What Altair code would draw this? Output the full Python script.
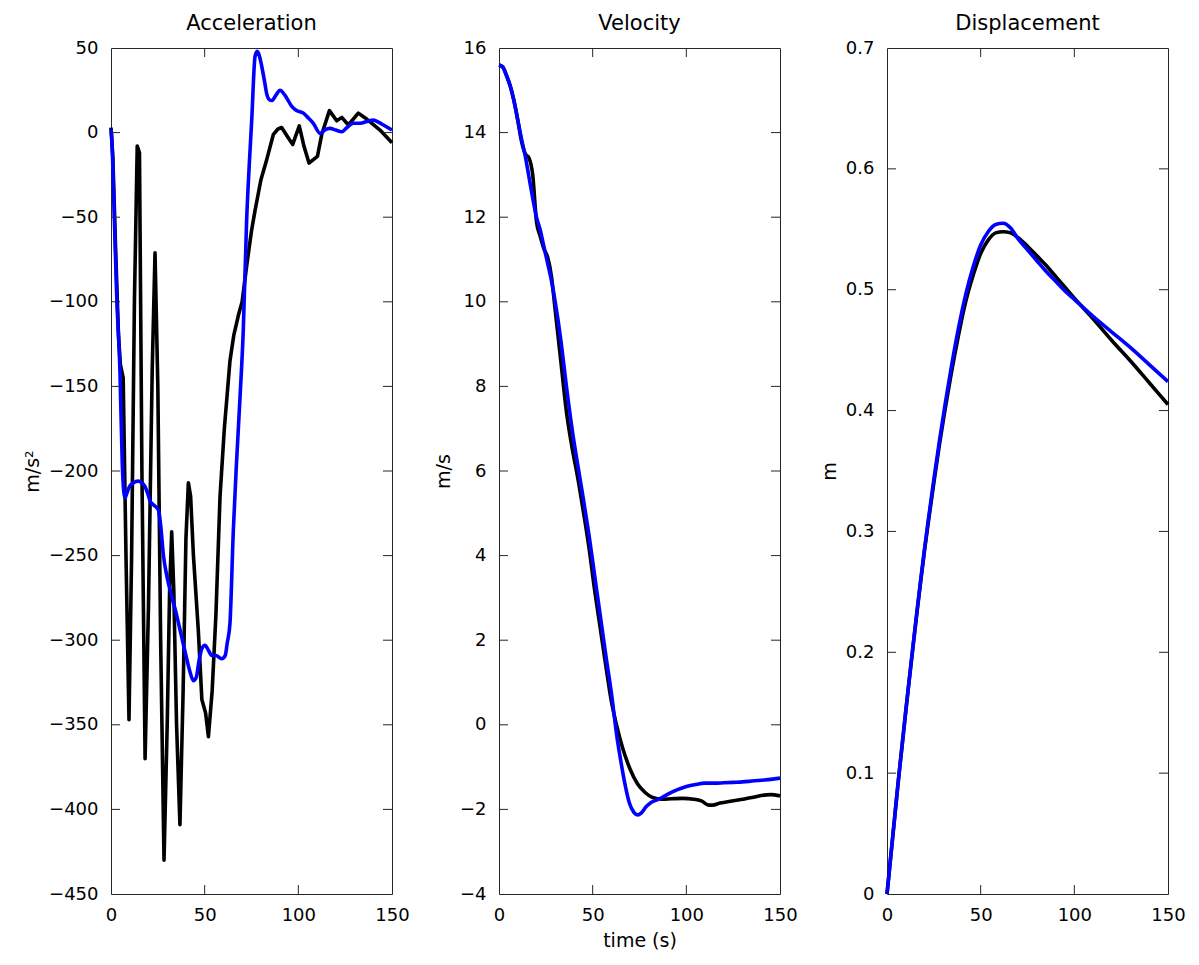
import altair as alt
import pandas as pd

# ---------------- data ----------------
acc_t_black = [0, 1, 2.5, 4, 5, 6.5, 8, 9.6, 11, 12.5, 14, 15.2, 16.5, 18.2, 20, 22, 23.5, 25, 26.5,
               28.3, 30, 31.3, 32.4, 33.5, 35, 36.8, 38.5, 40, 41.3, 42.5, 44, 46.6, 48.5, 50.5, 52,
               54, 56, 58.2, 60.5, 63.5, 65.5, 68, 70, 72.4, 75, 76.9, 80, 83.1, 86.7, 89, 91.1, 94,
               97, 100.5, 103, 105.7, 108, 110.2, 112.5, 116.6, 120.5, 123.2, 126.7, 132, 136.5,
               143.6, 150]
acc_black = [3, -15, -70, -120, -137, -145, -250, -347, -250, -100, -8, -12, -200, -370, -280, -140,
             -71, -150, -300, -430, -350, -270, -236, -270, -350, -409, -330, -240, -207, -215, -250,
             -294, -335, -343, -357, -330, -285, -215, -175, -135, -120, -108, -100, -79, -58, -46,
             -28, -16, -1, 2, 3, -2, -7, 4, -8, -18, -16, -14, -1, 13, 7, 9, 4.5, 11.5, 8, 1.5, -6]

acc_t_blue = [0, 0.5, 1.5, 3, 4.8, 6, 6.8, 7.5, 8.5, 10, 12, 14.5, 16.4, 18, 19.5, 21, 22.6, 25.3,
              26.5, 28, 30, 32.4, 35, 37.7, 40, 42, 44, 45.5, 47, 48.5, 50.2, 52, 53.8, 56, 59.1, 61,
              62, 63.5, 65.3, 67, 68.9, 70.6, 72.4, 74, 75.1, 76.9, 78.1, 79.3, 80.5, 82, 83.1, 84.5,
              85.8, 88, 90.2, 92.9, 96.5, 99, 102.7, 105, 108, 111.6, 114, 116.9, 120, 123.2, 126,
              129.4, 133, 136.5, 140, 143, 145.4, 150]
acc_blue = [2, -5, -40, -95, -142, -195, -212, -216, -213, -209, -207, -206, -207, -209, -213, -218,
            -220, -223, -232, -250, -263, -274, -285, -298, -309, -318, -324, -322, -312, -305, -303,
            -306, -309, -309, -311, -309, -302, -290, -235, -195, -156, -117, -52, -15, 7, 45, 48, 45,
            39, 30, 23, 19.5, 19, 22, 25, 22, 15.5, 13, 11.5, 9, 5.5, -0.5, 1.5, 2.5, 1.5, 0.5, 3, 5.5,
            5.5, 6.5, 7.4, 6, 4.5, 1.5]

vel_t_black = [0, 2, 4, 6, 8, 10, 12, 14, 16, 18, 20, 22, 24, 26, 28, 30, 33, 36, 39, 42, 45, 48, 51,
               54, 57, 60, 62.5, 66, 70, 74, 78, 82, 87, 92, 98, 104, 108, 112, 114, 118, 122, 126,
               130, 135, 140, 145, 150]
vel_black = [15.6, 15.55, 15.35, 15.1, 14.75, 14.3, 13.8, 13.5, 13.4, 13.0, 11.9, 11.55, 11.25,
             11.05, 10.6, 9.8, 8.6, 7.4, 6.55, 5.85, 5.05, 4.2, 3.2, 2.3, 1.4, 0.55, 0.04, -0.55,
             -1.05, -1.4, -1.6, -1.72, -1.76, -1.75, -1.74, -1.76, -1.8, -1.9, -1.9, -1.85, -1.82,
             -1.79, -1.76, -1.72, -1.67, -1.65, -1.68]

vel_t_blue = [0, 2, 4, 6, 8, 10, 12, 14, 16, 18, 20, 22, 24, 26, 28, 30, 33, 36, 39, 42, 45, 48, 51,
              54, 57, 60, 63, 65, 67, 69.6, 72, 74, 76, 78.6, 81, 84, 87, 91, 95, 100, 105, 110, 115,
              120, 125, 130, 135, 140, 145, 150]
vel_blue = [15.6, 15.55, 15.35, 15.1, 14.75, 14.3, 13.85, 13.45, 12.95, 12.45, 12.0, 11.7, 11.3,
            10.9, 10.5, 10.0, 9.1, 8.0, 7.0, 6.15, 5.35, 4.5, 3.55, 2.6, 1.65, 0.75, -0.3, -0.85,
            -1.35, -1.85, -2.07, -2.13, -2.08, -1.93, -1.84, -1.78, -1.72, -1.62, -1.54, -1.46,
            -1.41, -1.38, -1.38, -1.37, -1.36, -1.35, -1.33, -1.31, -1.29, -1.26]

disp_t = [0, 2, 4, 6, 8, 10, 12, 14, 16, 18, 20, 22, 25, 28, 31, 34, 38, 42, 46, 50, 54, 58, 62, 66,
          70, 75, 80, 85, 90, 95, 100, 110, 120, 130, 140, 150]
disp_black = [0, 0.031, 0.062, 0.093, 0.122, 0.151, 0.179, 0.206, 0.233, 0.259, 0.284, 0.307, 0.340,
              0.372, 0.401, 0.428, 0.461, 0.490, 0.512, 0.530, 0.541, 0.547, 0.548, 0.547, 0.543,
              0.536, 0.528, 0.520, 0.511, 0.502, 0.493, 0.476, 0.458, 0.441, 0.423, 0.405]
disp_blue = [0, 0.031, 0.062, 0.093, 0.122, 0.151, 0.179, 0.207, 0.234, 0.260, 0.285, 0.309, 0.343,
             0.375, 0.405, 0.433, 0.467, 0.496, 0.519, 0.537, 0.548, 0.554, 0.555, 0.551, 0.542,
             0.533, 0.524, 0.515, 0.507, 0.499, 0.492, 0.478, 0.465, 0.452, 0.438, 0.424]

x_ticks = [0, 50, 100, 150]
acc_ticks = [50, 0, -50, -100, -150, -200, -250, -300, -350, -400, -450]
vel_ticks = [16, 14, 12, 10, 8, 6, 4, 2, 0, -2, -4]
disp_ticks = [0, 0.1, 0.2, 0.3, 0.4, 0.5, 0.6, 0.7]

# ---------------- styling ----------------
FONT = "DejaVu Sans"
W, H = 281, 846
TICK = 9
BOX = "#262626"
LW = 3.6


def panel(tb, vb, tl, vl, ydom, yticks, title, ytitle, xtitle=None, smooth_black=True):
    xs = alt.Scale(domain=[0, 150], nice=False, zero=False)
    ys = alt.Scale(domain=ydom, nice=False, zero=False)
    xaxis = alt.Axis(values=x_ticks, tickSize=0, domain=False, grid=False, labelPadding=12,
                     labelFontSize=18, labelFont=FONT, labelColor="black", format="~f",
                     titleFontSize=19, titleFont=FONT, titleFontWeight="normal",
                     titleColor="black", titlePadding=7, labelFlush=False)
    yaxis = alt.Axis(values=yticks, tickSize=0, domain=False, grid=False, labelPadding=13,
                     labelFontSize=18, labelFont=FONT, labelColor="black", format="~f",
                     titleFontSize=19, titleFont=FONT, titleFontWeight="normal",
                     titleColor="black", titlePadding=6, labelFlush=False)

    dfb = pd.DataFrame({"t": tb, "v": vb})
    dfl = pd.DataFrame({"t": tl, "v": vl})
    X = alt.X("t:Q", scale=xs, axis=xaxis, title=xtitle)
    Y = alt.Y("v:Q", scale=ys, axis=yaxis, title=ytitle)
    black = alt.Chart(dfb).mark_line(
        color="black", strokeWidth=LW,
        interpolate="monotone" if smooth_black else "linear", strokeJoin="round"
    ).encode(x=X, y=Y)
    blue = alt.Chart(dfl).mark_line(color="#0000ff", strokeWidth=LW, interpolate="monotone",
                                     strokeJoin="round").encode(x=X, y=Y)
    xt = pd.DataFrame({"t": x_ticks[1:-1]})
    yt = pd.DataFrame({"v": yticks[1:-1]})
    top = alt.Chart(xt).mark_rule(color=BOX, strokeWidth=1).encode(
        x=X, y=alt.value(0), y2=alt.value(TICK))
    bot = alt.Chart(xt).mark_rule(color=BOX, strokeWidth=1).encode(
        x=X, y=alt.value(H - TICK), y2=alt.value(H))
    left = alt.Chart(yt).mark_rule(color=BOX, strokeWidth=1).encode(
        y=Y, x=alt.value(0), x2=alt.value(TICK))
    right = alt.Chart(yt).mark_rule(color=BOX, strokeWidth=1).encode(
        y=Y, x=alt.value(W - TICK), x2=alt.value(W))
    return alt.layer(black, blue, top, bot, left, right).properties(
        width=W, height=H,
        title=alt.TitleParams(title, fontSize=21, font=FONT, fontWeight="normal",
                              color="black", offset=5, anchor="middle"),
    )


p1 = panel(acc_t_black, acc_black, acc_t_blue, acc_blue, [-450, 50], acc_ticks,
           "Acceleration", "m/s²", smooth_black=False)
p2 = panel(vel_t_black, vel_black, vel_t_blue, vel_blue, [-4, 16], vel_ticks,
           "Velocity", "m/s", xtitle="time (s)")
p3 = panel(disp_t, disp_black, disp_t, disp_blue, [0, 0.7], disp_ticks,
           "Displacement", "m")

chart = alt.hconcat(p1, p2, p3, spacing=107, bounds="flush").properties(
    padding={"left": 15, "top": 4, "right": 0, "bottom": 0}
).configure(background="white").configure_view(stroke=BOX, strokeWidth=1)

chart.save("out.html", embed_options={"renderer": "svg", "actions": False})
